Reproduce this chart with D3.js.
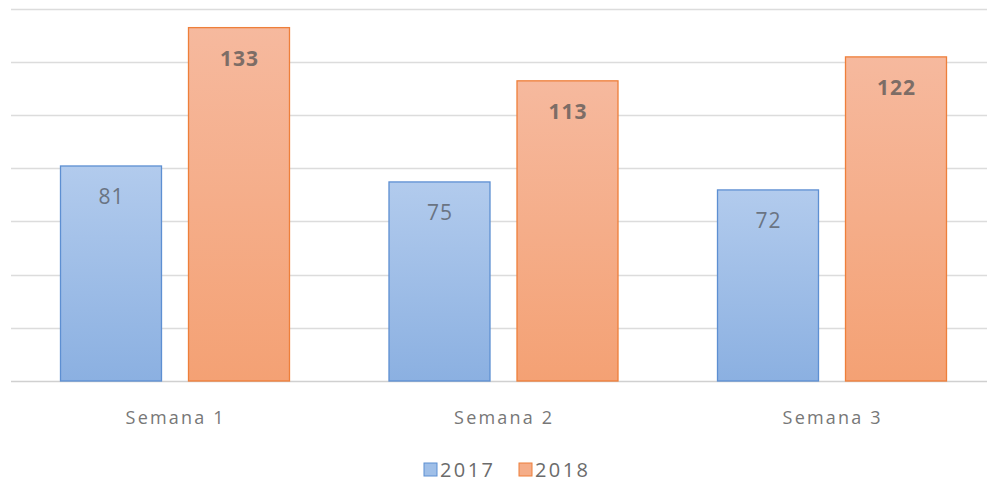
<!DOCTYPE html>
<html>
<head lang="en">
    <meta charset="UTF-8">
    <title>Semanas 2017 vs 2018</title>
    <script src="https://d3js.org/d3.v7.min.js" charset="utf-8"></script>
    <style type="text/css">
        body { margin: 0; background: #fff; }
        text { font-family: "Open Sans", "Liberation Sans", sans-serif; }
    </style>
</head>
<body>

<svg id="svg" width="987" height="485"></svg>

<script>
    var categories = ["Semana 1", "Semana 2", "Semana 3"];
    var seriesNames = ["2017", "2018"];
    var values2017 = [81, 75, 72];
    var values2018 = [133, 113, 122];
    var yTicks = [0, 20, 40, 60, 80, 100, 120, 140];

    var svg = d3.select("svg");
    var plotLeft = 10.5, plotRight = 996, plotTop = 8.5, plotBottom = 381;

    var defs = svg.append("defs");
    function grad(id, c1, c2) {
        var g = defs.append("linearGradient").attr("id", id)
            .attr("x1", 0).attr("y1", 0).attr("x2", 0).attr("y2", 1);
        g.append("stop").attr("offset", "0%").attr("stop-color", c1);
        g.append("stop").attr("offset", "100%").attr("stop-color", c2);
    }
    grad("gBlue", "#b2cbed", "#8bb0e1");
    grad("gOrange", "#f6b99e", "#f4a174");

    var fills = ["url(#gBlue)", "url(#gOrange)"];
    var strokes = ["#5d8fd2", "#ee7f3a"];
    var legendFills = ["#9fbfe8", "#f5ad88"];

    var x0 = d3.scaleBand().domain(categories).range([plotLeft, plotRight]).paddingInner(0).paddingOuter(0);
    var x1 = d3.scaleBand().domain(seriesNames).range([49.5, 49.5 + 229]).paddingInner(27 / 128);
    var y = d3.scaleLinear().domain([0, 140]).range([plotBottom, plotTop]);

    // gridlines
    svg.append("g").selectAll("line").data(yTicks).enter().append("line")
        .attr("x1", 11).attr("x2", 987)
        .attr("y1", function (d) { return Math.round(y(d)) + 0.5; })
        .attr("y2", function (d) { return Math.round(y(d)) + 0.5; })
        .attr("stroke", function (d) { return d === 0 ? "#d0d0d0" : "#dcdcdc"; })
        .attr("stroke-width", 1.3);

    var rows = categories.map(function (c, i) {
        return { cat: c, vals: [values2017[i], values2018[i]] };
    });

    var groups = svg.append("g").selectAll("g").data(rows).enter().append("g")
        .attr("transform", function (d) { return "translate(" + x0(d.cat) + ",0)"; });

    groups.selectAll("rect").data(function (d) {
        return d.vals.map(function (v, j) { return { s: j, v: v }; });
    }).enter().append("rect")
        .attr("x", function (d) { return x1(seriesNames[d.s]) + 0.5; })
        .attr("y", function (d) { return y(d.v) + 0.5; })
        .attr("width", x1.bandwidth())
        .attr("height", function (d) { return plotBottom - y(d.v) - 0.5; })
        .attr("fill", function (d) { return fills[d.s]; })
        .attr("stroke", function (d) { return strokes[d.s]; })
        .attr("stroke-width", 1.3);

    groups.selectAll("text.val").data(function (d) {
        return d.vals.map(function (v, j) { return { s: j, v: v }; });
    }).enter().append("text")
        .attr("class", "val")
        .attr("x", function (d) { return x1(seriesNames[d.s]) + x1.bandwidth() / 2 + 1; })
        .attr("y", function (d) { return y(d.v) + 39; })
        .attr("text-anchor", "middle")
        .attr("font-size", "21px")
        .attr("letter-spacing", "1px")
        .attr("font-weight", function (d) { return d.s === 1 ? "bold" : "normal"; })
        .attr("fill", function (d) { return d.s === 1 ? "#7d6d66" : "#6a7483"; })
        .text(function (d) { return d.v; });

    // x axis labels
    svg.append("g").selectAll("text").data(categories).enter().append("text")
        .attr("x", function (d) { return x0(d) + x0.bandwidth() / 2 + 1; })
        .attr("y", 424)
        .attr("text-anchor", "middle")
        .attr("font-size", "18px")
        .attr("letter-spacing", "2.2px")
        .attr("fill", "#777777")
        .text(function (d) { return d; });

    // legend
    var legend = svg.append("g").selectAll("g").data(seriesNames).enter().append("g")
        .attr("transform", function (d, i) { return "translate(" + (424 + i * 95) + ",463)"; });
    legend.append("rect")
        .attr("width", 13).attr("height", 13)
        .attr("fill", function (d, i) { return legendFills[i]; })
        .attr("stroke", function (d, i) { return strokes[i]; });
    legend.append("text")
        .attr("x", 16).attr("y", 14)
        .attr("font-size", "20px")
        .attr("letter-spacing", "2.4px")
        .attr("fill", "#6b6b6b")
        .text(function (d) { return d; });
</script>

</body>
</html>
